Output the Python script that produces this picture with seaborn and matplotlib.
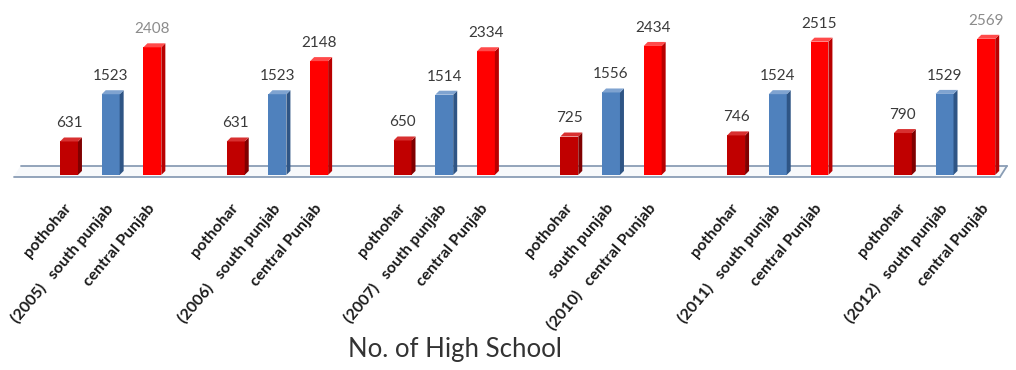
import numpy as np
import pandas as pd
import matplotlib
matplotlib.use("Agg")
import matplotlib.pyplot as plt
from matplotlib.patches import Polygon
import seaborn as sns

# --- data -------------------------------------------------------------
years = ["2005", "2006", "2007", "2010", "2011", "2012"]
regions = ["pothohar", "south punjab", "central Punjab"]
pothohar = [631, 631, 650, 725, 746, 790]
south_punjab = [1523, 1523, 1514, 1556, 1524, 1529]
central_punjab = [2408, 2148, 2334, 2434, 2515, 2569]
# which bar of each group carries the "(year)" prefix in its label
year_label_slot = [1, 1, 1, 2, 1, 1]
title = "No. of High School"

front_colors = {"pothohar": "#C00000", "south punjab": "#4F81BD", "central Punjab": "#FF0000"}
side_colors = {"pothohar": "#800000", "south punjab": "#2F5585", "central Punjab": "#B80000"}
top_colors = {"pothohar": "#D83030", "south punjab": "#7FA3D0", "central Punjab": "#FF4A4A"}

# --- tidy table -------------------------------------------------------
rows = []
tick_pos, tick_lab = [], []
series = [pothohar, south_punjab, central_punjab]
for g, yr in enumerate(years):
    for k, reg in enumerate(regions):
        pos = g * 4 + k
        rows.append({"pos": pos, "value": series[k][g], "region": reg})
        lab = reg
        if k == year_label_slot[g]:
            lab = f"({yr})   {reg}"
        tick_pos.append(pos)
        tick_lab.append(lab)
df = pd.DataFrame(rows)

# --- figure -----------------------------------------------------------
sns.set_theme(style="white")
plt.rcParams["font.family"] = ["Lato", "DejaVu Sans"]

W, H = 1016, 370
fig = plt.figure(figsize=(W / 100, H / 100), dpi=100)
ax = fig.add_axes([10 / W, (H - 185) / H, 1000 / W, 177 / H])

sns.barplot(data=df, x="pos", y="value", hue="region", hue_order=regions,
            palette=front_colors, native_scale=True, width=0.43, dodge=False,
            errorbar=None, saturation=1, legend=False, ax=ax, zorder=3,
            linewidth=0)

ymin, ymax = -190, 3150
ax.set_ylim(ymin, ymax)
ax.set_xlim(-1.415, 22.57)

# pixel -> data conversions for the pseudo-3D depth
px_x = (22.57 + 1.415) / 1000.0
px_y = (ymax - ymin) / 177.0
dx, dy = 4 * px_x, 4 * px_y

# floor slab behind the bars
x_left, x_right = -1.33, 22.33
floor_front, floor_back = -2 * px_y, 9 * px_y
floor = Polygon([(x_left, floor_front), (x_right, floor_front),
                 (x_right + 7 * px_x, floor_back), (x_left + 7 * px_x, floor_back)],
                closed=True, facecolor="#F7F9FB", edgecolor="none", zorder=1,
                clip_on=False)
ax.add_patch(floor)
edge_kw = dict(color="#8A9DB5", lw=1.3, zorder=2, clip_on=False)
ax.plot([x_left, x_right], [floor_front, floor_front], **edge_kw)
ax.plot([x_left + 7 * px_x, x_right + 7 * px_x], [floor_back, floor_back], **edge_kw)
ax.plot([x_right, x_right + 7 * px_x], [floor_front, floor_back], **edge_kw)

# side and top faces for every bar, taken from the bar geometry
for reg, cont in zip(regions, ax.containers):
    for p in cont.patches:
        x0, w, h = p.get_x(), p.get_width(), p.get_height()
        x1 = x0 + w
        side = Polygon([(x1, 0), (x1 + dx, dy), (x1 + dx, h + dy), (x1, h)],
                       closed=True, facecolor=side_colors[reg], edgecolor="none", zorder=3)
        top = Polygon([(x0, h), (x1, h), (x1 + dx, h + dy), (x0 + dx, h + dy)],
                      closed=True, facecolor=top_colors[reg], edgecolor="none", zorder=3)
        ax.add_patch(side)
        ax.add_patch(top)

# value labels
for reg, cont in zip(regions, ax.containers):
    texts = ax.bar_label(cont, fmt="%d", padding=8, fontsize=11, color="#3A3A3A")
    if reg == "central Punjab":
        for t in texts:
            if t.get_text() in ("2408", "2569"):
                t.set_color("#8C8C8C")

# category labels
ax.set_xticks(tick_pos)
ax.set_xticklabels(tick_lab, rotation=50, ha="right", va="center",
                   rotation_mode="anchor", fontsize=11.5, fontweight="bold",
                   color="#1A1A1A")
ax.tick_params(axis="x", length=0, pad=15)
ax.set_yticks([])
ax.set_xlabel("")
ax.set_ylabel("")
for s in ax.spines.values():
    s.set_visible(False)
ax.patch.set_alpha(0)

fig.text(455 / W, 1 - 350 / H, title, ha="center", va="center",
         fontsize=18.5, color="#333333")

fig.savefig("out.png", dpi=100, facecolor="white")
